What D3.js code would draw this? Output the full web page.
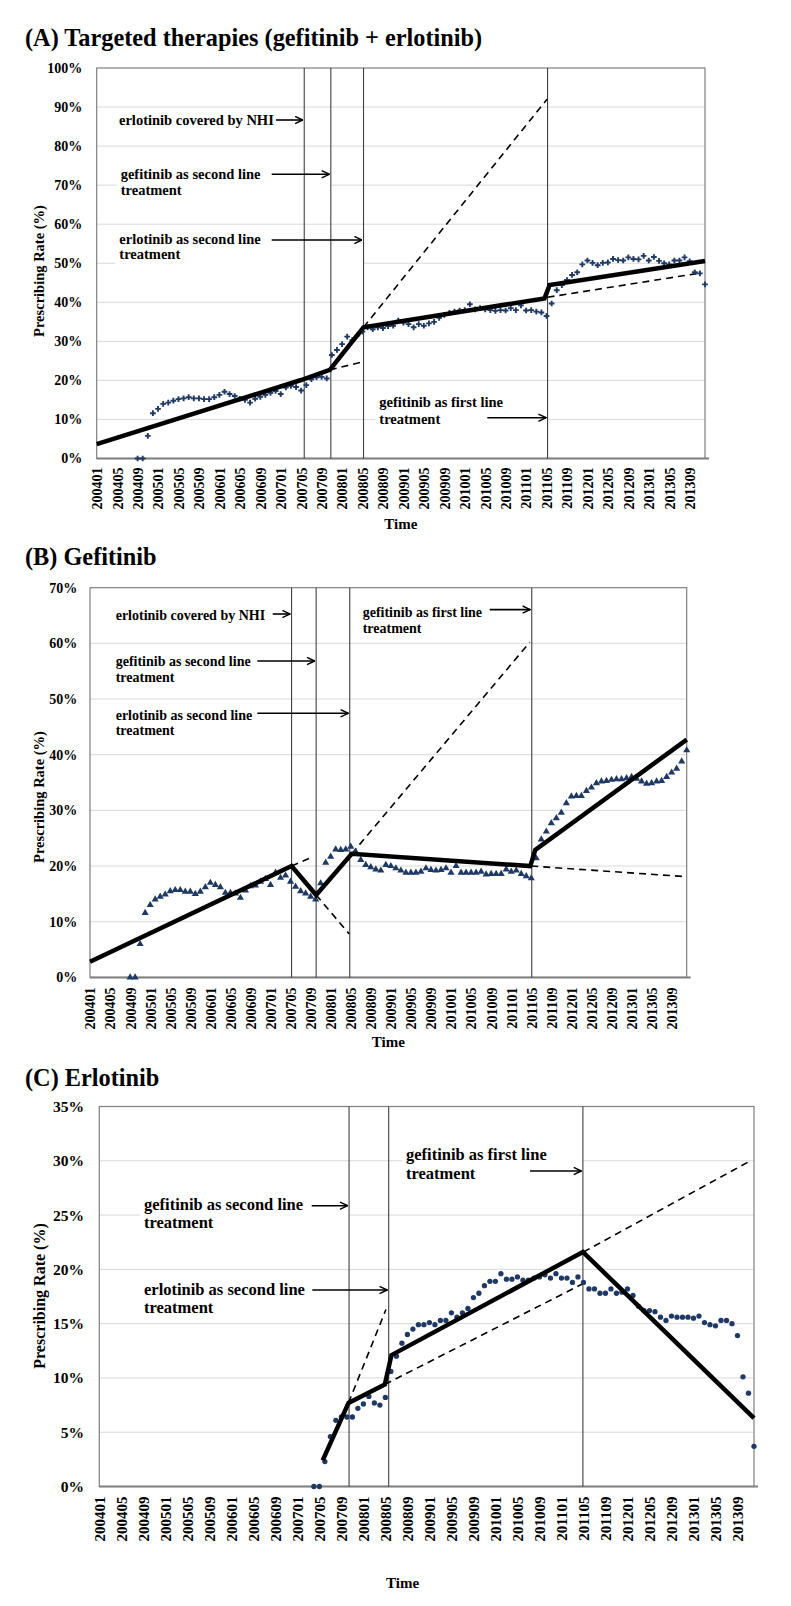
<!DOCTYPE html>
<html><head><meta charset="utf-8">
<script src="https://cdn.jsdelivr.net/npm/d3@7/dist/d3.min.js"></script>
<style>
body{margin:0;background:#fff}
svg text{font-family:"Liberation Serif","Times New Roman",serif;font-weight:bold;fill:#000}
</style>
</head><body>
<svg id="chart" width="791" height="1606"></svg>
<script>
// ---------------- DATA ----------------
const months = [];
for (let yr = 2004; yr <= 2013; yr++) for (let m = 1; m <= 12; m++) months.push(String(yr) + String(m).padStart(2, "0"));

const tickLabels = ["200401","200405","200409","200501","200505","200509","200601","200605","200609","200701","200705","200709","200801","200805","200809","200901","200905","200909","201001","201005","201009","201101","201105","201109","201201","201205","201209","201301","201305","201309"];

const yTicksA = [0,10,20,30,40,50,60,70,80,90,100];
const yTicksB = [0,10,20,30,40,50,60,70];
const yTicksC = [0,5,10,15,20,25,30,35];

// observed prescribing rate (%) per month, panel A (gefitinib + erlotinib)
const rateA = [null,null,null,null,null,null,null,null,0,0,
 5.8,11.6,12.7,14.0,14.3,14.8,15.2,15.4,15.7,15.4,
 15.4,15.2,15.2,15.7,16.3,17.1,16.5,16.0,15.3,15.0,
 14.3,15.3,15.8,16.3,16.8,17.3,16.5,18.2,18.6,18.3,
 17.4,18.8,20.3,20.8,20.9,20.5,26.5,27.8,29.3,31.2,
 30.3,31.5,32.5,33.6,33.1,33.6,33.4,33.9,34.0,35.3,
 34.8,34.4,33.6,34.4,34.0,34.6,35.0,36.0,36.8,37.3,
 37.6,37.9,38.0,39.5,38.2,38.5,38.2,38.0,37.8,38.0,
 37.9,38.5,38.0,39.2,37.9,38.0,37.6,37.4,36.5,39.7,
 43.1,44.4,45.7,47.0,47.7,49.7,50.7,50.1,49.5,50.1,
 50.2,51.1,50.8,50.7,51.5,51.1,51.0,51.9,50.7,51.6,
 50.6,50.0,49.7,50.7,50.7,51.5,50.5,47.7,47.4,44.6];

// panel B (gefitinib)
const rateB = [null,null,null,null,null,null,null,null,0,0,
 6.0,11.6,13.0,14.0,14.5,14.9,15.5,15.7,15.7,15.4,
 15.4,15.0,15.4,16.2,17.0,16.6,16.2,15.2,15.2,15.1,
 14.3,15.6,16.4,16.5,17.2,17.7,16.6,18.8,17.9,18.3,
 17.2,16.3,15.5,15.1,14.5,14.0,16.9,20.6,21.7,23.0,
 22.9,23.0,23.5,22.6,21.1,20.2,19.8,19.4,19.2,20.2,
 20.0,19.6,19.2,18.8,18.8,18.8,19.0,19.6,19.3,19.2,
 19.3,19.6,18.8,20.0,18.8,18.8,18.8,18.8,19.0,18.5,
 18.6,18.6,18.6,19.4,19.0,19.2,18.6,18.2,17.8,21.4,
 24.8,26.2,27.7,28.6,29.6,31.3,32.5,32.6,32.6,33.5,
 34.1,34.9,35.2,35.3,35.5,35.6,35.6,35.8,36.0,35.7,
 35.2,34.8,34.9,35.2,35.3,36.0,36.8,37.5,38.8,40.8];

// panel C (erlotinib)
const rateC = [null,null,null,null,null,null,null,null,null,null,
 null,null,null,null,null,null,null,null,null,null,
 null,null,null,null,null,null,null,null,null,null,
 null,null,null,null,null,null,null,null,null,0,
 0,2.3,4.6,6.1,6.4,6.4,6.4,7.2,7.6,8.3,
 7.7,7.5,8.2,10.6,12.0,13.2,14.0,14.5,14.9,14.9,
 15.1,14.9,15.3,15.3,16.0,15.6,16.0,16.4,17.4,17.8,
 18.5,18.9,18.9,19.6,19.1,19.1,19.3,19.0,19.0,19.2,
 19.3,19.5,19.2,19.6,19.2,19.2,18.8,19.3,18.8,18.2,
 18.2,17.8,17.8,18.2,17.8,17.9,18.2,17.6,16.6,16.2,
 16.2,16.1,15.6,15.3,15.7,15.6,15.6,15.6,15.5,15.7,
 15.1,14.9,14.8,15.3,15.3,15.0,13.9,10.1,8.6,3.7];

// segmented-regression fitted line, knots [month index, %]
const fitA = [[0,3.7],[40.0,20.1],[45.6,22.7],[52.2,33.6],[87.6,41.0],[88.6,44.4],[119,50.6]];
const fitB = [[0,2.8],[40.2,20.0],[45.1,14.8],[52.2,22.2],[87.8,20.0],[88.8,22.9],[119,42.7]];
const fitC = [[40.6,2.4],[45.3,7.7],[51.9,9.4],[53.1,12.1],[87.9,21.6],[119,6.3]];

// counterfactual (dashed) projections
const projA = [[[45.6,22.7],[52.2,24.8]], [[52.2,33.6],[88.1,92.0]], [[88.2,41.3],[117.6,47.4]]];
const projB = [[[40.2,20.0],[44.5,21.7]], [[45.1,14.8],[51.7,7.8]], [[52.2,22.2],[87.7,60.2]], [[88.0,20.0],[118.8,18.1]]];
const projC = [[[45.3,7.7],[52.1,16.3]], [[51.9,9.4],[88.0,18.7]], [[88.0,21.6],[118.0,29.9]]];

// policy events (month index of the vertical line)
const eventsA = [40.6, 45.8, 52.2, 88.2];
const eventsB = [40.2, 45.1, 51.8, 88.1];
const eventsC = [45.4, 52.6, 87.9];

const labelsA = [["erlotinib covered by NHI"],["gefitinib as second line","treatment"],["erlotinib as second line","treatment"],["gefitinib as first line","treatment"]];
const labelsB = [["erlotinib  covered by NHI"],["gefitinib  as second line","treatment"],["erlotinib  as second line","treatment"],["gefitinib  as first line","treatment"]];
const labelsC = [["gefitinib as second line","treatment"],["erlotinib as second line","treatment"],["gefitinib as first line","treatment"]];

// ---------------- DRAW ----------------
const svg = d3.select("#chart");
const defs = svg.append("defs");
defs.append("marker").attr("id","arr").attr("viewBox","0 0 10 10").attr("refX",9.5).attr("refY",5)
  .attr("markerWidth",9).attr("markerHeight",9).attr("markerUnits","userSpaceOnUse").attr("orient","auto")
  .append("path").attr("d","M1,1 L9.5,5 L1,9").attr("fill","none").attr("stroke","#000").attr("stroke-width",1.6);

const navy = "#1f3864";

function panel(cfg) {
  const x = d3.scaleLinear().domain([0,119]).range([cfg.left, cfg.right]);
  const y = d3.scaleLinear().domain([0, cfg.yTicks[cfg.yTicks.length-1]]).range([cfg.bottom, cfg.top]);
  const g = svg.append("g");

  g.append("text").attr("x",25).attr("y",cfg.titleY).style("font-size","24.3px").text(cfg.title);

  g.append("g").selectAll("line").data(cfg.yTicks.slice(1,-1)).join("line")
    .attr("x1",cfg.left).attr("x2",cfg.right).attr("y1",d=>y(d)).attr("y2",d=>y(d))
    .attr("stroke","#d9d9d9").attr("stroke-width",1);

  const bgG = g.append("g");

  g.append("rect").attr("x",cfg.left).attr("y",cfg.top).attr("width",cfg.right-cfg.left).attr("height",cfg.bottom-cfg.top)
    .attr("fill","none").attr("stroke","#7f7f7f").attr("stroke-width",1.2);
  g.append("line").attr("x1",cfg.left).attr("x2",cfg.right+4).attr("y1",cfg.bottom).attr("y2",cfg.bottom)
    .attr("stroke","#808080").attr("stroke-width",2);

  const ya = d3.axisLeft(y).tickValues(cfg.yTicks).tickFormat(d=>d+"%").tickSize(0).tickPadding(cfg.yPad);
  const yg = g.append("g").attr("transform",`translate(${cfg.left},0)`).call(ya);
  yg.select(".domain").remove();
  yg.selectAll("text").style("font-size",cfg.yFont+"px").style("font-family",null);

  const xa = d3.axisBottom(x).tickValues(tickLabels.map(t=>months.indexOf(t))).tickFormat(i=>months[i]).tickSize(0);
  const xg = g.append("g").attr("transform",`translate(0,${cfg.bottom})`).call(xa);
  xg.select(".domain").remove();
  xg.selectAll("text").attr("transform","rotate(-90)").attr("text-anchor","end")
    .attr("x",-cfg.xPad).attr("y",0).attr("dy","0.35em").style("font-size",cfg.xFont+"px").style("font-family",null);

  g.append("text").attr("x",(cfg.left+cfg.right)/2+cfg.timeDx).attr("y",cfg.timeY).attr("text-anchor","middle")
    .style("font-size",cfg.timeFont+"px").text("Time");
  g.append("text").attr("transform",`translate(${cfg.yTitleX},${cfg.yTitleY}) rotate(-90)`).attr("text-anchor","middle")
    .style("font-size",cfg.yTitleFont+"px").text(cfg.yTitle);

  g.append("g").selectAll("line").data(cfg.events).join("line")
    .attr("x1",d=>x(d)).attr("x2",d=>x(d)).attr("y1",cfg.top).attr("y2",cfg.bottom)
    .attr("stroke","#404040").attr("stroke-width",1.1);

  const line = d3.line().x(d=>x(d[0])).y(d=>y(d[1]));
  g.append("g").selectAll("path").data(cfg.proj).join("path").attr("d",line)
    .attr("fill","none").attr("stroke","#000").attr("stroke-width",1.6).attr("stroke-dasharray","7,5");

  const pts = cfg.rate.map((v,i)=>[i,v]).filter(d=>d[1]!==null);
  const sym = d3.symbol().type(cfg.symbol).size(cfg.symSize);
  g.append("g").selectAll("path").data(pts).join("path")
    .attr("transform",d=>`translate(${x(d[0])},${y(d[1])})`).attr("d",sym).attr("fill",navy);

  g.append("path").datum(cfg.fit).attr("d",line).attr("fill","none").attr("stroke","#000")
    .attr("stroke-width",4.5).attr("stroke-linejoin","miter");

  cfg.notes.forEach((n,k)=>{
    const lines = cfg.labels[k];
    const ng = g.append("g");
    lines.forEach((t,j)=>{
      ng.append("text").attr("x",n.tx).attr("y",n.ty + j*n.lh).attr("dy","0.33em")
        .style("font-size",cfg.noteFont+"px").text(t);
    });
    const ex = x(cfg.events[k]) - 1.5;
    ng.append("line").attr("x1",n.ax).attr("x2",ex).attr("y1",n.ay).attr("y2",n.ay)
      .attr("stroke","#000").attr("stroke-width",1.6).attr("marker-end","url(#arr)");
    const bb = ng.node().getBBox();
    bgG.append("rect").attr("x",bb.x-4).attr("y",bb.y-3).attr("width",bb.width+6).attr("height",bb.height+6).attr("fill","#fff");
  });
}

panel({
  title:"(A) Targeted therapies (gefitinib + erlotinib)", titleY:46,
  left:96.7, right:705, top:68, bottom:458.5, yTicks:yTicksA, yPad:14.4, yFont:14, xPad:9, xFont:14,
  timeY:528.5, timeDx:0, timeFont:15, yTitle:"Prescribing Rate (%)", yTitleX:44, yTitleY:271, yTitleFont:14.5,
  events:eventsA, proj:projA, rate:rateA, fit:fitA, symbol:d3.symbolCross, symSize:18,
  labels:labelsA, noteFont:14.5,
  notes:[{tx:119,ty:120,lh:16,ax:276,ay:120},{tx:120.7,ty:174,lh:16,ax:271.7,ay:174.3},
         {tx:119.3,ty:239,lh:15.5,ax:271.7,ay:240},{tx:379.3,ty:402.7,lh:16.3,ax:487.3,ay:417.7}]
});

panel({
  title:"(B) Gefitinib", titleY:565,
  left:90, right:686.7, top:587.7, bottom:977.4, yTicks:yTicksB, yPad:12.7, yFont:14, xPad:10, xFont:14,
  timeY:1047, timeDx:0, timeFont:15, yTitle:"Prescribing  Rate (%)", yTitleX:44, yTitleY:797, yTitleFont:14.5,
  events:eventsB, proj:projB, rate:rateB, fit:fitB, symbol:d3.symbolTriangle, symSize:22,
  labels:labelsB, noteFont:14,
  notes:[{tx:115.7,ty:615,lh:16,ax:272.7,ay:614},{tx:115.7,ty:661.7,lh:16,ax:257.3,ay:661},
         {tx:115.7,ty:715,lh:15.7,ax:257.3,ay:713.3},{tx:362.7,ty:612.7,lh:15.6,ax:489.7,ay:609.6}]
});

panel({
  title:"(C) Erlotinib", titleY:1086,
  left:99.3, right:754, top:1106.5, bottom:1486.5, yTicks:yTicksC, yPad:15.3, yFont:15.5, xPad:10, xFont:15,
  timeY:1588, timeDx:-24, timeFont:15, yTitle:"Prescribing Rate (%)", yTitleX:45, yTitleY:1296, yTitleFont:16,
  events:eventsC, proj:projC, rate:rateC, fit:fitC, symbol:d3.symbolCircle, symSize:22,
  labels:labelsC, noteFont:16.5,
  notes:[{tx:144,ty:1204.3,lh:18.4,ax:311.7,ay:1205.7},{tx:144,ty:1289.3,lh:18.4,ax:312.3,ay:1290},
         {tx:406,ty:1155,lh:18.3,ax:530,ay:1171}]
});
</script>
</body></html>
